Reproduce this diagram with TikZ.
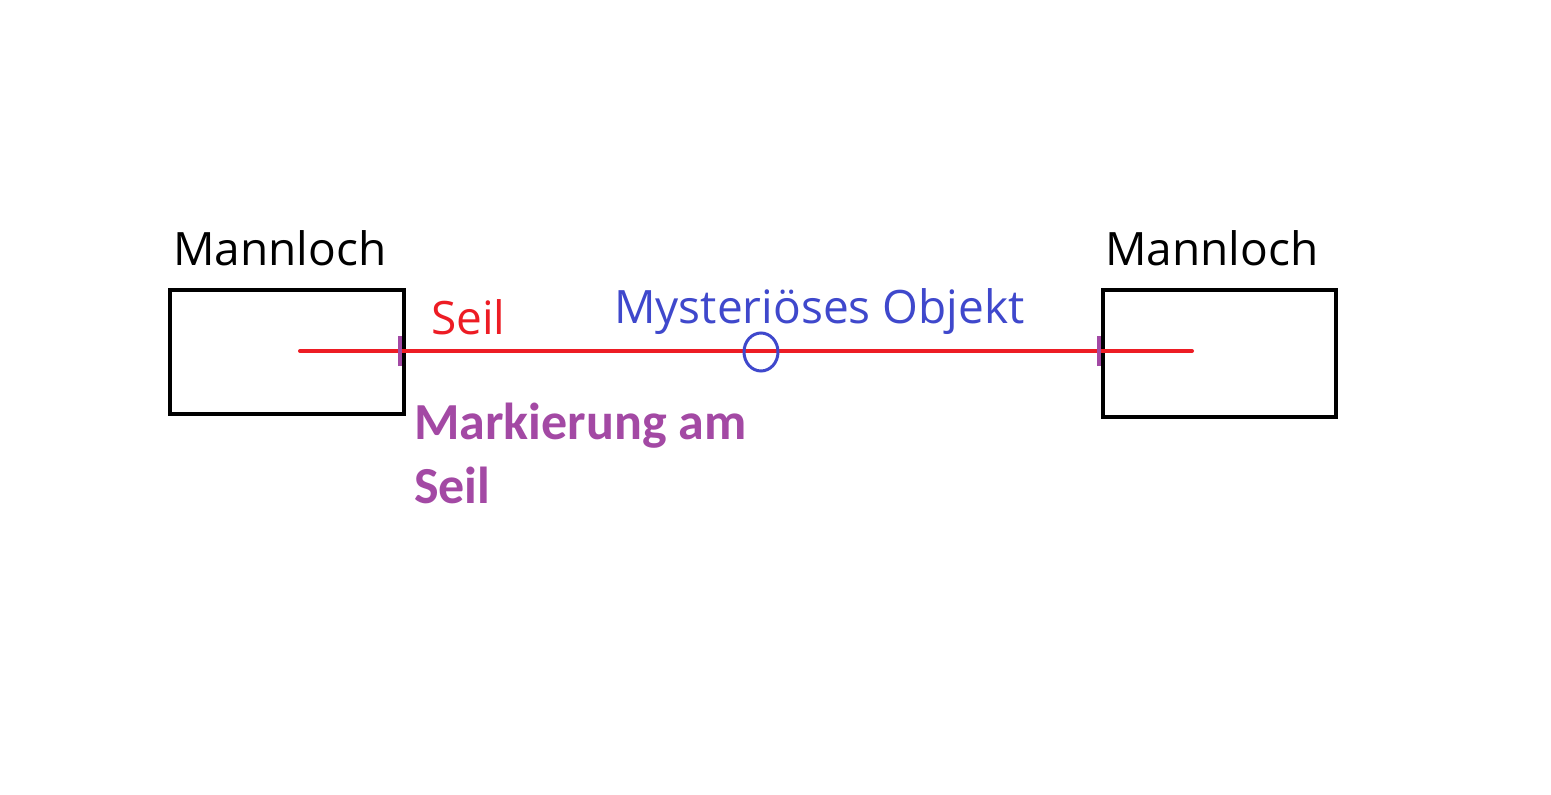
\documentclass[tikz,border=0pt]{standalone}
\usepackage{fontspec}
\setmainfont{Open Sans}
\newfontfamily\markfont{Carlito}
\usepackage{tikz}
\definecolor{ropered}{RGB}{237,28,36}
\definecolor{objblue}{RGB}{63,72,204}
\definecolor{markpurple}{RGB}{163,73,164}
\tikzset{
	hole/.style={draw=black, line width=4.5pt},
	rope/.style={draw=ropered, line width=4pt, line cap=round},
	ropemark/.style={draw=markpurple, line width=4.5pt},
	lbl/.style={anchor=base west, inner sep=0pt, font=\fontsize{46}{55}\selectfont}
}

\begin{document}
\begin{tikzpicture}[x=1pt, y=-1pt]
		\useasboundingbox[fill=white] (0,0) rectangle (1551,795);
		\coordinate (L1) at (170,290);
		\coordinate (L2) at (404,414);
		\coordinate (R1) at (1103,290);
		\coordinate (R2) at (1336,417);
		\draw[hole] (L1) rectangle (L2);
		\draw[hole] (R1) rectangle (R2);
		\draw (173,265) node[lbl]{Mannloch};
		\draw (1105,265) node[lbl]{Mannloch};
		
		\coordinate (A) at (300,351);
		\coordinate (B) at (1192,351);
		\draw[rope] (A) -- (B);
		\draw (431,334) node[lbl, text=ropered]{Seil};
		
		\coordinate (M1) at (400,351);
		\coordinate (M2) at (1099,351);
		\draw[ropemark] ([yshift=-15pt]M1) -- ([yshift=15pt]M1);
		\draw[ropemark] ([yshift=-15pt]M2) -- ([yshift=15pt]M2);
		\draw (414,503) node[lbl, text=markpurple, align=left, font=\markfont\bfseries\fontsize{52}{64}\selectfont]{Markierung am\\Seil};
		
		\coordinate (O) at (761,352);
		\draw[objblue, line width=3pt] (O) ellipse [x radius=17pt, y radius=19pt];
		\draw (614,323) node[lbl, text=objblue]{Mysteriöses Objekt};
		\end{tikzpicture}
\end{document}
